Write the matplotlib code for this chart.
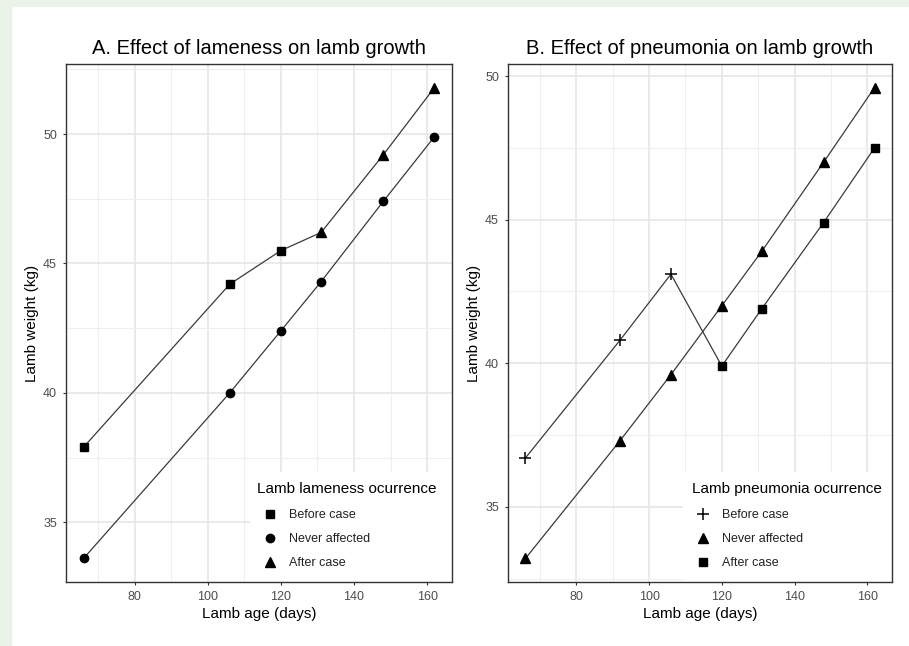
import numpy as np
import matplotlib.pyplot as plt
from matplotlib.lines import Line2D
from matplotlib.patches import Rectangle

plt.rcParams['font.family'] = ['Liberation Sans', 'DejaVu Sans']

# ---- data ----
# A. lameness
a_days_aff = [66, 106, 120, 131, 148, 162]
a_wt_aff = [37.9, 44.2, 45.5, 46.2, 49.2, 51.8]
a_grp_aff = ['Before case', 'Before case', 'Before case', 'After case', 'After case', 'After case']
a_days_never = [66, 106, 120, 131, 148, 162]
a_wt_never = [33.6, 40.0, 42.4, 44.3, 47.4, 49.9]

# B. pneumonia
b_days_aff = [66, 92, 106, 120, 131, 148, 162]
b_wt_aff = [36.7, 40.8, 43.1, 39.9, 41.9, 44.9, 47.5]
b_grp_aff = ['Before case', 'Before case', 'Before case', 'After case', 'After case', 'After case', 'After case']
b_days_never = [66, 92, 106, 120, 131, 148, 162]
b_wt_never = [33.2, 37.3, 39.6, 42.0, 43.9, 47.0, 49.6]

x_ticks = [80, 100, 120, 140, 160]
y_ticks = [35, 40, 45, 50]
legend_labels = ['Before case', 'Never affected', 'After case']

line_col = '#3a3a3a'
grid_major = '#e4e4e4'
grid_minor = '#efefef'
edge = '#333333'

fig = plt.figure(figsize=(9.09, 6.46), dpi=100)
# pale green page strips
fig.patches.append(Rectangle((0, 0), 11 / 909, 1, transform=fig.transFigure, color='#ebf2e7', zorder=0))
fig.patches.append(Rectangle((0, 1 - 6 / 646), 1, 6 / 646, transform=fig.transFigure, color='#ebf2e7', zorder=0))

axA = fig.add_axes([66 / 909, 64 / 646, 386 / 909, 518 / 646])
axB = fig.add_axes([508 / 909, 64 / 646, 384 / 909, 518 / 646])


def style(ax, title):
    ax.set_xlim(61.2, 166.8)
    ax.set_xticks(x_ticks)
    ax.set_yticks(y_ticks)
    lo, hi = ax.get_ylim()
    ax.set_xticks([70, 90, 110, 130, 150], minor=True)
    ax.set_yticks([v for v in [32.5, 37.5, 42.5, 47.5, 52.5] if lo <= v <= hi], minor=True)
    ax.grid(True, which='major', color=grid_major, lw=1.1, zorder=0)
    ax.grid(True, which='minor', color=grid_minor, lw=0.8, zorder=0)
    ax.set_axisbelow(True)
    ax.tick_params(which='major', direction='out', length=2.5, width=0.8, color=edge,
                   labelsize=9, labelcolor='#4d4d4d', pad=4)
    ax.tick_params(which='minor', length=0)
    for s in ax.spines.values():
        s.set_color(edge)
        s.set_linewidth(1.0)
        s.set_zorder(3)
    ax.set_title(title, fontsize=14.5, pad=7.5)
    ax.set_xlabel('Lamb age (days)', fontsize=11, labelpad=3)
    ax.set_ylabel('Lamb weight (kg)', fontsize=11, labelpad=3)


msty = {
    's': dict(marker='s', ms=5.5),
    'o': dict(marker='o', ms=6),
    '^': dict(marker='^', ms=6.5),
    '+': dict(marker='+', ms=9, mew=1.1),
}


def draw(ax, dx, dy, grp, nx, ny, mk_before, mk_never, mk_after):
    ax.plot(dx, dy, color=line_col, lw=0.9, zorder=2)
    ax.plot(nx, ny, color=line_col, lw=0.9, zorder=2)
    for x, y, g in zip(dx, dy, grp):
        m = mk_before if g == 'Before case' else mk_after
        ax.plot(x, y, linestyle='none', color='black', zorder=3, **msty[m])
    for x, y in zip(nx, ny):
        ax.plot(x, y, linestyle='none', color='black', zorder=3, **msty[mk_never])


def legend(ax, title, marks, box_x, title_x, key_x):
    # white legend background, title, then keys
    ax.add_patch(Rectangle((box_x, 0), 1 - box_x, 0.212, transform=ax.transAxes,
                           facecolor='white', edgecolor='none', zorder=2.4))
    ax.text(title_x, 0.179, title, transform=ax.transAxes, fontsize=11, va='center',
            ha='left', color='black', zorder=2.6)
    handles = [Line2D([], [], linestyle='none', color='black', **msty[m]) for m in marks]
    leg = ax.legend(handles, legend_labels, loc='upper left', bbox_to_anchor=(key_x, 0.141),
                    borderaxespad=0, borderpad=0, frameon=False, fontsize=9,
                    handlelength=1.0, handletextpad=1.0, labelspacing=0.96)
    leg.set_zorder(2.6)
    for t in leg.get_texts():
        t.set_color('#222222')


# panel A
axA.set_ylim(32.69, 52.71)
draw(axA, a_days_aff, a_wt_aff, a_grp_aff, a_days_never, a_wt_never, 's', 'o', '^')
style(axA, 'A. Effect of lameness on lamb growth')
legend(axA, 'Lamb lameness ocurrence', ['s', 'o', '^'], 0.477, 0.495, 0.512)

# panel B
axB.set_ylim(32.38, 50.42)
draw(axB, b_days_aff, b_wt_aff, b_grp_aff, b_days_never, b_wt_never, '+', '^', 's')
style(axB, 'B. Effect of pneumonia on lamb growth')
legend(axB, 'Lamb pneumonia ocurrence', ['+', '^', 's'], 0.456, 0.479, 0.492)

fig.savefig('out.png', dpi=100)
